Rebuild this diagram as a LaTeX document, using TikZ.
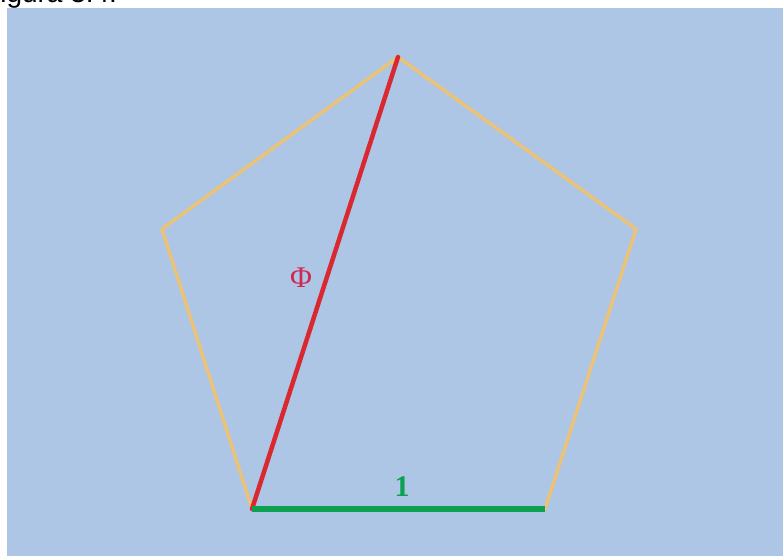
\documentclass[tikz,border=0pt]{standalone}
\usepackage{fontspec}
\setmainfont{Liberation Serif}
\newfontfamily\capfont{Liberation Sans}
\definecolor{bgblue}{RGB}{173,198,230}
\definecolor{edgeorange}{RGB}{234,194,120}
\definecolor{diagred}{RGB}{218,40,48}
\definecolor{sidegreen}{RGB}{14,160,82}
\definecolor{phicol}{RGB}{208,40,80}
\tikzset{
  penedge/.style={draw=edgeorange, line width=3.5pt, line join=round, line cap=round},
  diagline/.style={draw=diagred, line width=4.5pt, line cap=round},
  baseline/.style={draw=sidegreen, line width=6pt},
  lbl/.style={inner sep=0pt}
}
\begin{document}
\begin{tikzpicture}[x=1pt,y=-1pt]
\useasboundingbox (0,0) rectangle (783,556);
\clip (0,0) rectangle (783,556);
\fill[white] (0,0) rectangle (783,556);
\node[lbl, anchor=base west, font=\capfont\fontsize{28}{30}\selectfont] (cap) at (-17,3) {Figura 3.4:};
\fill[bgblue] (7,8) rectangle (783,556);
\coordinate (A) at (398,57);
\coordinate (B) at (636,229);
\coordinate (C) at (545,509);
\coordinate (D) at (252,509);
\coordinate (E) at (162,229);
\draw[penedge] (A) -- (B) -- (C) -- (D) -- (E) -- cycle;
\draw[diagline] (D) -- (A);
\draw[baseline] (D) -- (C);
\node[lbl, text=phicol, font=\fontsize{30}{32}\selectfont] (phi) at (301,278) {Φ};
\node[lbl, text=sidegreen, font=\bfseries\fontsize{30}{32}\selectfont] (one) at (402,487) {1};
\end{tikzpicture}
\end{document}
